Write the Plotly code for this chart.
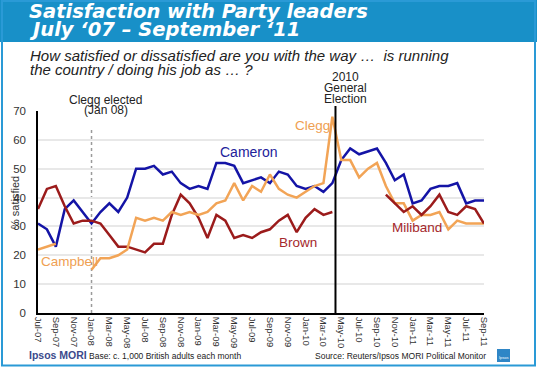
import plotly.graph_objects as go

months = ["Jul-07", "Aug-07", "Sep-07", "Oct-07", "Nov-07", "Dec-07",
          "Jan-08", "Feb-08", "Mar-08", "Apr-08", "May-08", "Jun-08",
          "Jul-08", "Aug-08", "Sep-08", "Oct-08", "Nov-08", "Dec-08",
          "Jan-09", "Feb-09", "Mar-09", "Apr-09", "May-09", "Jun-09",
          "Jul-09", "Aug-09", "Sep-09", "Oct-09", "Nov-09", "Dec-09",
          "Jan-10", "Feb-10", "Mar-10", "Apr-10", "May-10", "Jun-10",
          "Jul-10", "Aug-10", "Sep-10", "Oct-10", "Nov-10", "Dec-10",
          "Jan-11", "Feb-11", "Mar-11", "Apr-11", "May-11", "Jun-11",
          "Jul-11", "Aug-11", "Sep-11"]

cameron = [31, 29, 23, 36, 39, 35, 31, 35, 38, 35, 40, 50, 50, 51, 48, 49, 45, 43,
           44, 43, 52, 52, 51, 45, 46, 47, 45, 49, 48, 44, 43, 44, 42, 45, 53, 57,
           55, 56, 57, 52, 46, 48, 38, 39, 43, 44, 44, 45, 38, 39, 39]
brown_months = months[0:34]
brown = [36, 43, 44, 37, 31, 32, 32, 31, 27, 23, 23, 22, 21, 24, 24, 34, 41, 38,
         33, 26, 34, 32, 26, 27, 26, 28, 29, 32, 34, 28, 33, 36, 34, 35]
campbell_months = months[0:3]
campbell = [22, 23, 24]
clegg_months = months[6:51]
clegg = [15, 19, 19, 20, 22, 33, 32, 33, 32, 35, 34, 35, 34, 35, 38, 39, 45, 39,
         44, 42, 48, 43, 41, 40, 42, 44, 45, 68, 53, 53, 47, 50, 52, 44, 38, 38,
         32, 34, 34, 35, 29, 32, 31, 31, 31]
miliband_months = months[39:51]
miliband = [41, 38, 35, 37, 34, 37, 41, 35, 34, 37, 36, 31]

y_ticks = [0, 10, 20, 30, 40, 50, 60, 70]
x_ticks = months[::2]

BLUE = "#1414A6"
RED = "#9B1B1B"
ORANGE = "#F2A456"
BAND = "#1890C8"

W, H = 537, 367
ML, MR, MT, MB = 38, 53, 111, 54
PW, PH = W - ML - MR, H - MT - MB


def xp(px):
    return (px - ML) / PW


def yp(py):
    return (H - MB - py) / PH


FONT = "Liberation Sans, Arial, sans-serif"

fig = go.Figure()
for xs, ys, col in [(months, cameron, BLUE), (brown_months, brown, RED),
                    (campbell_months, campbell, ORANGE), (clegg_months, clegg, ORANGE),
                    (miliband_months, miliband, RED)]:
    fig.add_trace(go.Scatter(x=xs, y=ys, mode="lines",
                             line=dict(color=col, width=2.5), hoverinfo="skip"))

shapes = [
    # title band
    dict(type="rect", xref="paper", yref="paper", x0=xp(0), x1=xp(537), y0=yp(42), y1=yp(0),
         fillcolor=BAND, line=dict(width=0), layer="below"),
    # slide border
    dict(type="rect", xref="paper", yref="paper", x0=xp(2), x1=xp(535), y0=yp(365.5), y1=yp(1),
         fillcolor="rgba(0,0,0,0)", line=dict(color="#2A9AD6", width=2)),
    # Clegg elected dotted line
    dict(type="line", xref="x", yref="paper", x0=6, x1=6, y0=0, y1=yp(128),
         line=dict(color="#9A9A9A", width=1.5, dash="dot"), layer="below"),
    # election line
    dict(type="line", xref="x", yref="paper", x0=33.35, x1=33.35, y0=0, y1=yp(106),
         line=dict(color="black", width=2)),
    # logo
    dict(type="rect", xref="paper", yref="paper", x0=xp(497), x1=xp(510), y0=yp(362), y1=yp(349),
         fillcolor="#2F86C6", line=dict(width=0)),
]

ann = []


def add(text, x, y, size, color, xref="paper", yref="paper", xanchor="center",
        family=FONT, textangle=0):
    ann.append(dict(text=text, x=x, y=y, xref=xref, yref=yref, xanchor=xanchor,
                    yanchor="middle", showarrow=False, textangle=textangle,
                    font=dict(family=family, size=size, color=color)))


# title
add("<b><i>Satisfaction with Party leaders</i></b>", xp(27), yp(11), 19.5, "white",
    xanchor="left", family="DejaVu Sans, sans-serif")
add("<b><i>July \u201807 \u2013 September \u201811</i></b>", xp(27), yp(29), 19.5, "white",
    xanchor="left", family="DejaVu Sans, sans-serif")
# subtitle
add("<i>How satisfied or dissatisfied are you with the way \u2026  is running</i>",
    xp(28), yp(56), 15, "#222222", xanchor="left")
add("<i>the country / doing his job as \u2026 ?</i>", xp(28), yp(69), 15, "#222222",
    xanchor="left")
# event labels
add("Clegg elected", 7.6, yp(100), 12, "#222222", xref="x")
add("(Jan 08)", 7.6, yp(110), 12, "#222222", xref="x")
add("2010", 34.5, yp(77), 12, "#222222", xref="x")
add("General", 34.5, yp(88), 12, "#222222", xref="x")
add("Election", 34.5, yp(99), 12, "#222222", xref="x")
# axis title
add("% satisfied", xp(15), yp(203), 11, "#333333", textangle=-90)
# series labels
add("Cameron", 23.6, 55.8, 14, "#22229A", xref="x", yref="y")
add("Brown", 29.2, 24.6, 13.5, "#A5282C", xref="x", yref="y")
add("Clegg", 30.8, 65.1, 13.5, "#EFA052", xref="x", yref="y")
add("Campbell", 0.15, 18.0, 13.5, "#EFA052", xref="x", yref="y", xanchor="left")
add("Miliband", 42.5, 29.8, 13.5, "#A5282C", xref="x", yref="y")
add("39%", 50.15, 40.2, 13.5, "#22229A", xref="x", yref="y", xanchor="left")
add("31%", 50.15, 35.0, 13.5, "#A5282C", xref="x", yref="y", xanchor="left")
add("31%", 50.15, 30.8, 13.5, "#EFA052", xref="x", yref="y", xanchor="left")
# footer
add("<b>Ipsos MORI</b>", xp(27), yp(355), 10.5, "#3B4A8C", xanchor="left")
add("Base: c. 1,000 British adults each month", xp(87), yp(356), 8.5, "#222222",
    xanchor="left")
ann.append(dict(text="Source: Reuters/Ipsos MORI Political Monitor", x=xp(488), y=yp(356),
                xref="paper", yref="paper", xanchor="right", yanchor="middle",
                showarrow=False, font=dict(family=FONT, size=8.5, color="#222222")))
add("Ipsos", xp(503.5), yp(357), 4, "white")

fig.update_layout(
    width=W, height=H,
    margin=dict(l=ML, r=MR, t=MT, b=MB, pad=0),
    paper_bgcolor="white", plot_bgcolor="white",
    showlegend=False,
    shapes=shapes, annotations=ann,
    font=dict(family=FONT, color="#333333"),
    xaxis=dict(type="category", categoryorder="array", categoryarray=months,
               range=[0, 50], tickvals=x_ticks, ticktext=x_ticks, tickangle=90,
               tickfont=dict(size=9.5, color="#333333"), showgrid=False,
               showline=True, linecolor="black", linewidth=1.5, ticks="",
               zeroline=False, fixedrange=True),
    yaxis=dict(range=[0, 70], tickvals=y_ticks, showgrid=True, gridcolor="#E8E8E8",
               gridwidth=1.5, showline=True, linecolor="black", linewidth=1.5,
               ticks="", zeroline=False, tickfont=dict(size=11.5, color="#333333"),
               ticklabelstandoff=8, fixedrange=True),
)

fig.write_html("out.html", config={"displayModeBar": False},
               post_script="document.body.style.margin='0';"
                           "document.body.style.overflow='hidden';")
